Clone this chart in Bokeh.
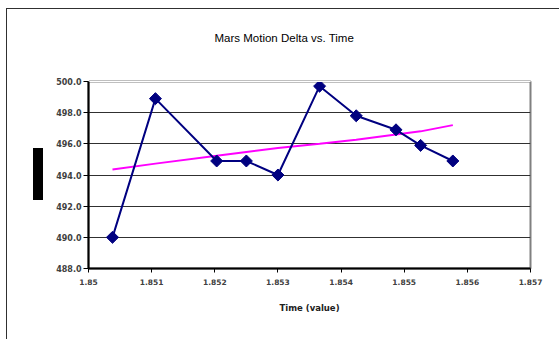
from bokeh.plotting import figure
from bokeh.models import (Range1d, FixedTicker, ColumnDataSource, InlineStyleSheet,
                          LinearAxis)
from bokeh.embed import file_html
from bokeh.resources import INLINE

# Observed Mars motion delta against time
time = [1.85038, 1.85106, 1.85203, 1.8525, 1.8530, 1.85366, 1.85424, 1.85487, 1.85526, 1.85577]
delta = [490.0, 498.9, 494.9, 494.9, 494.0, 499.7, 497.8, 496.9, 495.9, 494.9]
# Trend line through the observations
trend = [494.36, 494.73, 495.23, 495.48, 495.74, 496.0, 496.26, 496.6, 496.8, 497.2]

x_ticks = [1.850, 1.851, 1.852, 1.853, 1.854, 1.855, 1.856, 1.857]
x_tick_labels = ["1.85", "1.851", "1.852", "1.853", "1.854", "1.855", "1.856", "1.857"]
y_ticks = [488, 490, 492, 494, 496, 498, 500]
y_tick_labels = ["488.0", "490.0", "492.0", "494.0", "496.0", "498.0", "500.0"]

title_text = "Mars Motion Delta vs. Time"
x_title = "Time (value)"

src = ColumnDataSource(dict(time=time, delta=delta, trend=trend))

p = figure(width=559, height=339, output_backend="svg", toolbar_location=None,
           x_range=Range1d(1.850, 1.857), y_range=Range1d(488, 500),
           min_border_left=88, min_border_right=29, min_border_top=81,
           min_border_bottom=71)
p.background_fill_color = "white"
p.border_fill_color = "white"
p.outline_line_color = "#808080"
p.outline_line_width = 2

# the bottom (time) axis and the left (delta) axis
xa = p.below[0]
ya = p.left[0]

# plain white top axis: keeps a gap between the plot area and the title
gap_axis = LinearAxis(ticker=FixedTicker(ticks=[1.850]), major_tick_out=38,
                      major_tick_in=0, major_label_standoff=0,
                      major_label_overrides={1.850: ""},
                      major_label_text_font_size="1px",
                      axis_line_color="white", major_tick_line_color="white",
                      minor_tick_line_color=None)
p.add_layout(gap_axis, "above")

# chart title
p.title.text = title_text
p.title.align = "left"
p.title.offset = 126
p.title.vertical_align = "bottom"
p.title.standoff = 0
p.title.text_font = "Liberation Sans"
p.title.text_font_size = "11.5px"
p.title.text_font_style = "normal"
p.title.text_color = "black"

tick_font = "DejaVu Sans"
lab_color = "#404040"

# x axis
xa.ticker = FixedTicker(ticks=x_ticks)
xa.major_label_overrides = {t: s for t, s in zip(x_ticks, x_tick_labels)}
xa.minor_tick_line_color = None
xa.major_tick_in = 0
xa.major_tick_out = 4
xa.axis_line_color = "black"
xa.axis_line_width = 2
xa.major_tick_line_color = "black"
xa.major_label_text_font = tick_font
xa.major_label_text_font_style = "bold"
xa.major_label_text_font_size = "7.5px"
xa.major_label_text_color = lab_color
xa.major_label_standoff = 6
xa.axis_label = x_title
xa.axis_label_text_font = tick_font
xa.axis_label_text_font_style = "bold"
xa.axis_label_text_font_size = "8.5px"
xa.axis_label_text_color = "#202020"
xa.axis_label_standoff = 15

# y axis
ya.ticker = FixedTicker(ticks=y_ticks)
ya.major_label_overrides = {t: s for t, s in zip(y_ticks, y_tick_labels)}
ya.minor_tick_line_color = None
ya.major_tick_in = 0
ya.major_tick_out = 5
ya.axis_line_color = "black"
ya.axis_line_width = 2
ya.major_tick_line_color = "black"
ya.major_label_text_font = tick_font
ya.major_label_text_font_style = "bold"
ya.major_label_text_font_size = "8px"
ya.major_label_text_color = lab_color
ya.major_label_standoff = 2

p.xgrid.grid_line_color = None
p.ygrid.ticker = FixedTicker(ticks=y_ticks)
p.ygrid.grid_line_color = "#303030"
p.ygrid.grid_line_width = 1

# data series and trend
p.line("time", "trend", source=src, line_color="#FF00FF", line_width=2)
p.line("time", "delta", source=src, line_color="#000080", line_width=2)
p.scatter("time", "delta", source=src, marker="square", angle=0.785398,
          size=8.5, fill_color="#000080", line_color="#000080")

# chart area frame (top and left edges) and the vertical title block
frame_css = """
:host { position: relative; }
:host::after {
  content: ""; position: absolute; left: 6px; top: 8px;
  width: 620px; height: 400px; box-sizing: border-box;
  border-top: 1.5px solid #303030; border-left: 1.5px solid #303030;
  pointer-events: none; z-index: 10;
}
:host::before {
  content: ""; position: absolute; left: 33px; top: 148px;
  width: 10px; height: 52px; background: #000000;
  pointer-events: none; z-index: 10;
}
"""
p.stylesheets = [InlineStyleSheet(css=frame_css)]

open("out.html", "w").write(file_html(p, INLINE))
